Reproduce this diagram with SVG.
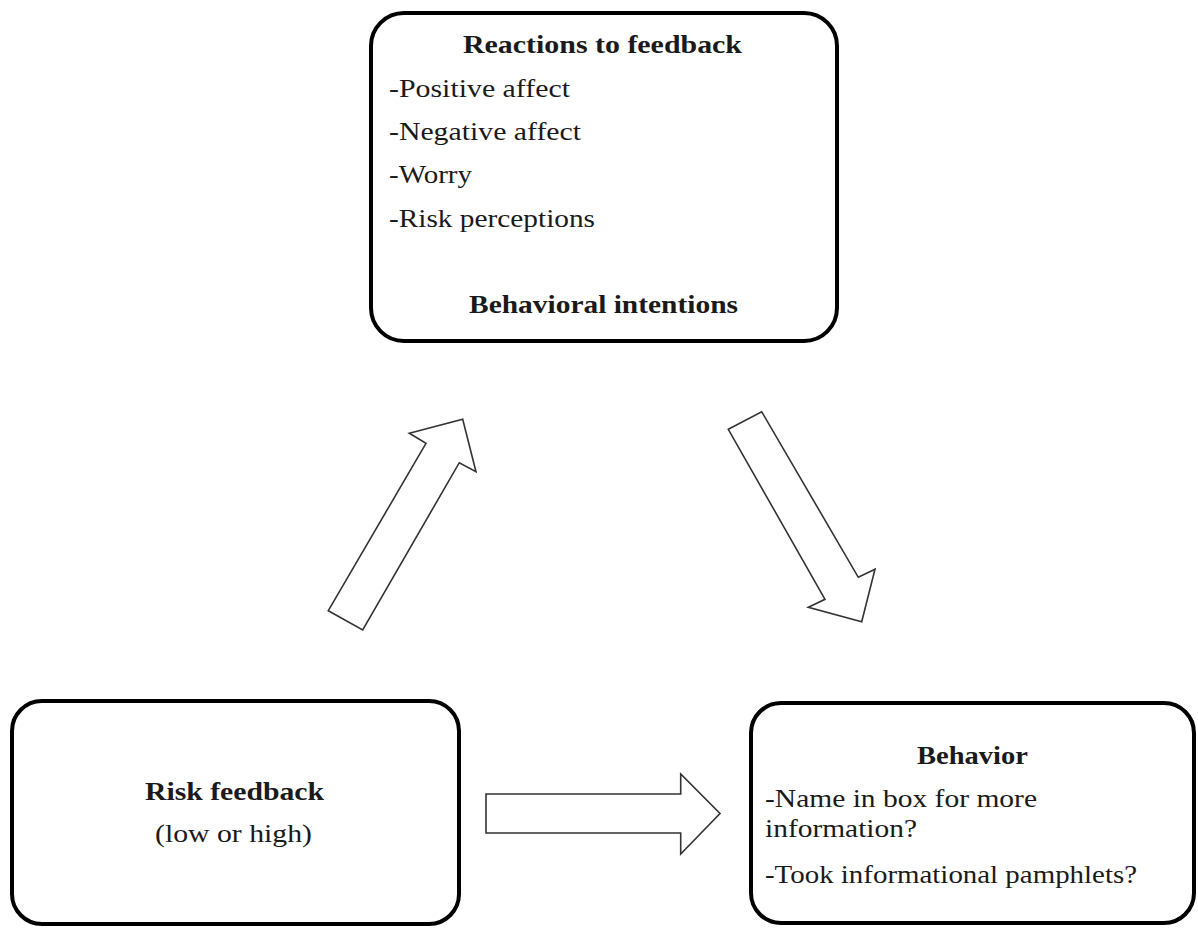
<svg xmlns="http://www.w3.org/2000/svg" width="1198" height="928" viewBox="0 0 1198 928">
<style>
.box{fill:#fff;stroke:#000;stroke-width:4}
.arrow{fill:#fff;stroke:#333;stroke-width:1.6;stroke-linejoin:miter}
text{font-family:"Liberation Serif","Times New Roman",serif;font-size:26px;fill:#1a1a1a}
.b{font-weight:bold}
</style>
<rect width="1198" height="928" fill="#fff"/>
<g id="reactions">
<rect class="box" x="371" y="13" width="466" height="328" rx="33"/>
<text class="b" x="463" y="53" textLength="279" lengthAdjust="spacingAndGlyphs">Reactions to feedback</text>
<text x="389" y="97" textLength="181" lengthAdjust="spacingAndGlyphs">-Positive affect</text>
<text x="389" y="140" textLength="192" lengthAdjust="spacingAndGlyphs">-Negative affect</text>
<text x="389" y="183" textLength="83" lengthAdjust="spacingAndGlyphs">-Worry</text>
<text x="389" y="227" textLength="206" lengthAdjust="spacingAndGlyphs">-Risk perceptions</text>
<text class="b" x="469" y="313" textLength="269" lengthAdjust="spacingAndGlyphs">Behavioral intentions</text>
</g>
<g id="risk-feedback">
<rect class="box" x="12" y="701" width="447" height="223" rx="30"/>
<text class="b" x="145" y="800" textLength="179" lengthAdjust="spacingAndGlyphs">Risk feedback</text>
<text x="155" y="842" textLength="157" lengthAdjust="spacingAndGlyphs">(low or high)</text>
</g>
<g id="behavior">
<rect class="box" x="751" y="703" width="443" height="220" rx="30"/>
<text class="b" x="917" y="764" textLength="111" lengthAdjust="spacingAndGlyphs">Behavior</text>
<text x="765" y="807" textLength="272" lengthAdjust="spacingAndGlyphs">-Name in box for more</text>
<text x="765" y="837" textLength="152" lengthAdjust="spacingAndGlyphs">information?</text>
<text x="765" y="883" textLength="372" lengthAdjust="spacingAndGlyphs">-Took informational pamphlets?</text>
</g>
<g id="connectors">
<polygon class="arrow" points="328.3,610.7 362.7,630 459.3,462.7 476,471.7 462.7,419.3 409.3,433.3 426,443.3"/>
<polygon class="arrow" points="728.3,429.3 761.7,411.7 858.3,577.3 875,569.3 861.7,621.7 808.3,607.3 825,599.3"/>
<polygon class="arrow" points="486,794 680.7,794 680.7,774 720,813.5 680.7,854 680.7,833 486,833"/>
</g>
</svg>
